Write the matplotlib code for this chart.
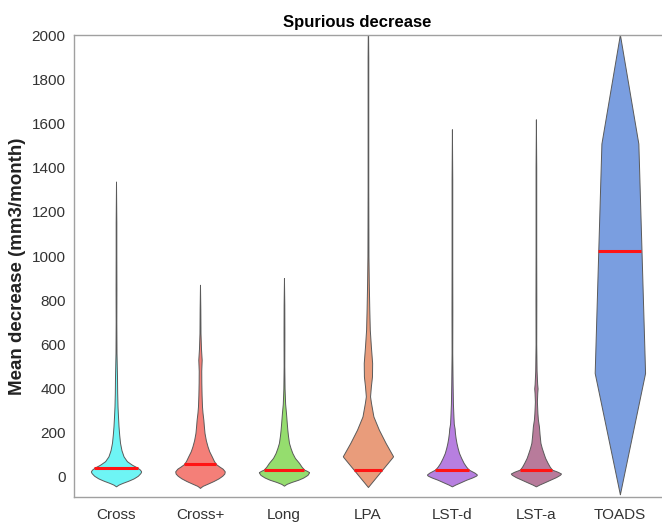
import numpy as np
import matplotlib.pyplot as plt

plt.rcParams['font.family'] = ['Liberation Sans', 'DejaVu Sans']

methods = ['Cross', 'Cross+', 'Long', 'LPA', 'LST-d', 'LST-a', 'TOADS']
colors = ['#6ef5f5', '#f47f78', '#95dd6e', '#e99c7b', '#b77fe0', '#b87b9b', '#7a9ee0']
means = [39, 57, 32, 32, 32, 32, 1024]

# density outlines: value levels and violin half-widths
cross_y = [-44, -36, -28, -18, -8, 4, 16, 24, 32, 42, 54, 70, 92, 120, 153, 190, 228, 270,
           318, 380, 450, 560, 700, 850, 1000, 1150, 1338]
cross_w = [0, 0.03, 0.08, 0.15, 0.21, 0.26, 0.29, 0.30, 0.285, 0.25, 0.19, 0.13, 0.09, 0.065,
           0.048, 0.038, 0.03, 0.024, 0.018, 0.014, 0.012, 0.006, 0.004, 0.005, 0.004, 0.004, 0]

crossp_y = [-51, -42, -32, -20, -8, 4, 14, 24, 36, 46, 57, 72, 92, 115, 137, 165, 198, 230,
            258, 290, 318, 370, 425, 480, 530, 580, 650, 760, 870]
crossp_w = [0, 0.03, 0.09, 0.16, 0.22, 0.265, 0.29, 0.295, 0.27, 0.23, 0.19, 0.165, 0.14, 0.11,
            0.09, 0.07, 0.054, 0.046, 0.04, 0.03, 0.024, 0.019, 0.016, 0.015, 0.02, 0.012, 0.006,
            0.004, 0]

long_y = [-41, -33, -24, -14, -4, 8, 20, 26, 32, 45, 62, 85, 107, 130, 153, 185, 213, 250,
          289, 330, 400, 500, 650, 780, 900]
long_w = [0, 0.03, 0.09, 0.17, 0.23, 0.28, 0.30, 0.275, 0.24, 0.21, 0.18, 0.13, 0.10, 0.078,
          0.06, 0.048, 0.04, 0.032, 0.024, 0.014, 0.007, 0.004, 0.005, 0.004, 0]

lpa_y = [-47, 92, 153, 213, 273, 335, 364, 410, 454, 515, 590, 666, 757, 878, 1000, 1300,
         1600, 1900, 2100]
lpa_w = [0, 0.30, 0.21, 0.13, 0.065, 0.036, 0.025, 0.035, 0.048, 0.05, 0.035, 0.022, 0.016,
         0.01, 0.006, 0.004, 0.004, 0.004, 0]

lstd_y = [-44, -36, -26, -14, -4, 4, 9, 18, 32, 45, 62, 85, 107, 130, 153, 175, 198, 218,
          240, 273, 330, 420, 560, 750, 950, 1150, 1350, 1575]
lstd_w = [0, 0.04, 0.10, 0.17, 0.24, 0.285, 0.30, 0.27, 0.20, 0.17, 0.14, 0.11, 0.085, 0.068,
          0.054, 0.044, 0.036, 0.032, 0.022, 0.018, 0.012, 0.008, 0.004, 0.005, 0.004, 0.004,
          0.004, 0]

lsta_y = [-44, -36, -26, -14, -2, 8, 14, 22, 32, 45, 62, 85, 107, 130, 153, 190, 228, 258,
          288, 340, 380, 400, 420, 480, 600, 800, 1000, 1200, 1400, 1620]
lsta_w = [0, 0.04, 0.10, 0.17, 0.24, 0.285, 0.30, 0.26, 0.19, 0.165, 0.14, 0.11, 0.09, 0.07,
          0.054, 0.044, 0.036, 0.024, 0.018, 0.012, 0.016, 0.02, 0.015, 0.008, 0.004, 0.005,
          0.004, 0.004, 0.004, 0]

toads_y = [-80, 470, 1510, 2005]
toads_w = [0, 0.30, 0.22, 0]

profiles = [(cross_y, cross_w), (crossp_y, crossp_w), (long_y, long_w), (lpa_y, lpa_w),
            (lstd_y, lstd_w), (lsta_y, lsta_w), (toads_y, toads_w)]

fig = plt.figure(figsize=(6.62, 5.22), dpi=100)
ax = fig.add_axes([0.1118, 0.048, 0.888, 0.884])

for i, ((py, pw), col, m) in enumerate(zip(profiles, colors, means)):
    c = i + 1
    yy = np.linspace(py[0], py[-1], 600)
    ww = np.interp(yy, py, pw)
    ax.fill_betweenx(yy, c - ww, c + ww, facecolor=col, edgecolor='#5a5a5a', linewidth=0.7,
                     zorder=2)
    wm = np.interp(m, py, pw)
    ax.plot([c - wm, c + wm], [m, m], color='#ff1414', linewidth=2.2, solid_capstyle='butt',
            zorder=3)

ax.set_xlim(0.5, 7.5)
ax.set_ylim(-92, 2000)
ax.set_xticks(range(1, 8))
ax.set_xticklabels(methods)
ax.set_yticks(range(0, 2001, 200))
ax.tick_params(length=0, labelsize=11, colors='#333333')
ax.tick_params(axis='y', pad=6)
ax.tick_params(axis='x', pad=8)
for side in ['left', 'bottom', 'top']:
    ax.spines[side].set_color('#a0a0a0')
    ax.spines[side].set_linewidth(1.0)
ax.spines['right'].set_visible(False)

ax.set_ylabel('Mean decrease (mm3/month)', fontsize=13.5, fontweight='bold', color='#222222')
ax.yaxis.set_label_coords(-0.082, 0.5)
ax.set_title('Spurious decrease', fontsize=12, fontweight='bold', x=0.481, pad=6)

fig.savefig('out.png', dpi=100)
